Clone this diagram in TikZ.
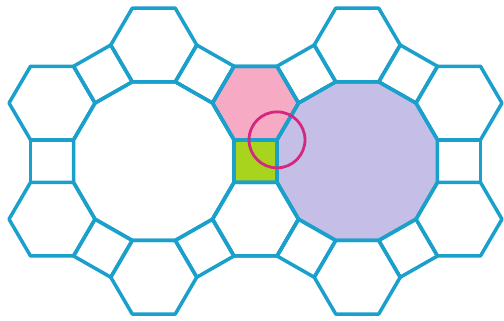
\documentclass[tikz,border=0pt]{standalone}
\usetikzlibrary{calc}
\definecolor{tblue}{RGB}{27,160,204}
\definecolor{pinkf}{RGB}{247,170,196}
\definecolor{lavf}{RGB}{197,190,230}
\definecolor{greenf}{RGB}{168,212,30}
\definecolor{ringc}{RGB}{212,39,127}
\begin{document}
\begin{tikzpicture}[x=43pt,y=42.5pt,
  tile/.style={draw=tblue,line width=3.5pt,line join=round},
  ring/.style={draw=ringc,line width=2.8pt},
  hexa/.pic={\path[pic actions] (0:1) -- (60:1) -- (120:1) -- (180:1) -- (240:1) -- (300:1) -- cycle;},
  sqr/.pic={\path[pic actions] (#1+45:0.7071) -- (#1+135:0.7071) -- (#1+225:0.7071) -- (#1+315:0.7071) -- cycle;},
  dodec/.pic={\path[pic actions] (15:1.9319) -- (45:1.9319) -- (75:1.9319) -- (105:1.9319) -- (135:1.9319) -- (165:1.9319) -- (195:1.9319) -- (225:1.9319) -- (255:1.9319) -- (285:1.9319) -- (315:1.9319) -- (345:1.9319) -- cycle;}]
\useasboundingbox (-5.942,-3.739) rectangle (5.779,3.791);
\coordinate (L) at (-2.366,0);
\coordinate (R) at (2.366,0);
\coordinate (V) at (0.5,0.5);
% fills
\pic[fill=pinkf] at ($(L)+(30:2.732)$) {hexa};
\pic[fill=lavf] at (R) {dodec};
\pic[fill=greenf] at (0,0) {sqr=0};
% outlines
\foreach \c in {L,R}{
  \foreach \a in {30,90,...,330} \pic[tile] at ($(\c)+(\a:2.732)$) {hexa};
  \foreach \a in {0,60,...,300} \pic[tile] at ($(\c)+(\a:2.366)$) {sqr=\a};
  \pic[tile] at (\c) {dodec};
}
\draw[ring] (V) circle[radius=28pt];
\end{tikzpicture}
\end{document}
